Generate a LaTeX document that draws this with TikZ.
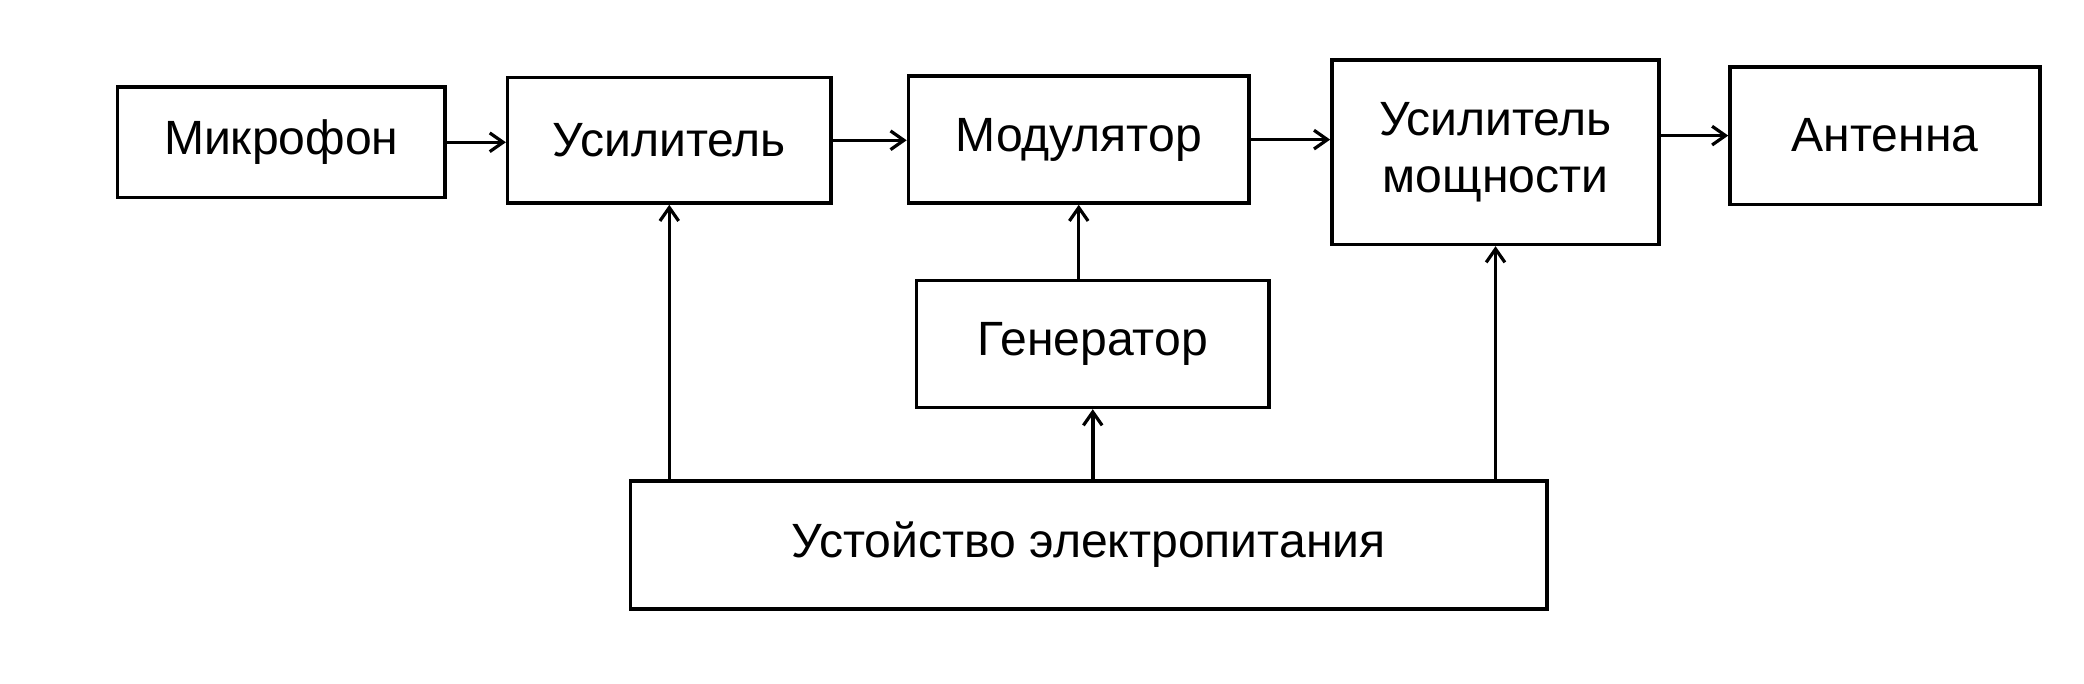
\documentclass[tikz,border=0pt]{standalone}
\usepackage{fontspec}
\setmainfont{Liberation Sans}
\usetikzlibrary{arrows.meta}
\begin{document}
\begin{tikzpicture}[x=1pt,y=-1pt,
  blk/.style={draw,line width=2.6pt,inner sep=0pt,font=\fontsize{36}{42}\selectfont,align=center},
  arr/.style={line width=2.6pt,-{Straight Barb[length=10pt,width=14pt,line width=2.4pt]}}]
\useasboundingbox (0,0) rectangle (1560,512);
\node[blk,minimum width=245pt,minimum height=83pt] (m) at (210.5,106.5) {Микрофон};
\node[blk,minimum width=242pt,minimum height=94pt] (u) at (501,105) {Усилитель};
\node[blk,minimum width=255pt,minimum height=95pt] (mod) at (807.5,104.5) {Модулятор};
\node[blk,minimum width=245pt,minimum height=138pt] (um) at (1119.5,114) {Усилитель\\мощности};
\node[blk,minimum width=232pt,minimum height=103pt] (a) at (1411,101.5) {Антенна};
\node[blk,minimum width=264pt,minimum height=95pt] (g) at (818,257.5) {Генератор};
\node[blk,minimum width=686pt,minimum height=96pt] (p) at (815,408) {Устойство электропитания};
\draw[arr] (m.east) -- (m.east -| u.west);
\draw[arr] (u.east) -- (u.east -| mod.west);
\draw[arr] (mod.east) -- (mod.east -| um.west);
\draw[arr] (a.west -| um.east) -- (a.west);
\draw[arr] (p.north -| u.south) -- (u.south);
\draw[arr] (g.north -| mod.south) -- (mod.south);
\draw[arr] (p.north -| g.south) -- (g.south);
\draw[arr] (p.north -| um.south) -- (um.south);
\end{tikzpicture}
\end{document}
